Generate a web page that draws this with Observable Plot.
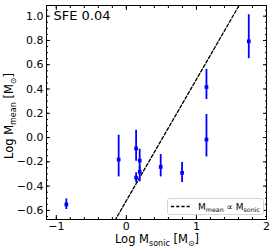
<!DOCTYPE html>
<html><head><meta charset="utf-8">
<script src="https://cdn.jsdelivr.net/npm/d3@7"></script>
<script src="https://cdn.jsdelivr.net/npm/@observablehq/plot@0.6"></script>
<style>body{margin:0;background:#fff}</style>
</head><body><div id="chart"></div>
<script>
// Data (log10 values)
const logMsonic = [-0.857, -0.11, 0.139, 0.139, 0.19, 0.19, 0.49, 0.795, 1.143, 1.143, 1.747];
const logMmean  = [-0.551, -0.181, -0.09, -0.33, -0.19, -0.283, -0.242, -0.291, -0.016, 0.416, 0.793];
const errLow    = [-0.593, -0.324, -0.195, -0.37, -0.278, -0.365, -0.324, -0.37, -0.16, 0.313, 0.65];
const errHigh   = [-0.505, 0.019, 0.06, -0.29, -0.096, -0.236, -0.14, -0.206, 0.19, 0.562, 1.012];
// Reference relation M_mean ∝ M_sonic (slope 1 in log-log), endpoints
const refLineX = [-0.2, 1.65];
const refLineY = [-0.72, 1.13];
// Ticks
const xMajor = [-1, 0, 1, 2];
const xMinor = [-1, -0.8, -0.6, -0.4, -0.2, 0, 0.2, 0.4, 0.6, 0.8, 1, 1.2, 1.4, 1.6, 1.8, 2];
const yMajor = [-0.6, -0.4, -0.2, 0.0, 0.2, 0.4, 0.6, 0.8, 1.0];
const yMinor = [-0.65, -0.6, -0.55, -0.5, -0.45, -0.4, -0.35, -0.3, -0.25, -0.2, -0.15, -0.1, -0.05, 0, 0.05, 0.1, 0.15, 0.2, 0.25, 0.3, 0.35, 0.4, 0.45, 0.5, 0.55, 0.6, 0.65, 0.7, 0.75, 0.8, 0.85, 0.9, 0.95, 1.0, 1.05];
const title = "SFE 0.04";

const data = logMsonic.map((x, i) => ({x, y: logMmean[i], lo: errLow[i], hi: errHigh[i]}));
const refLine = refLineX.map((x, i) => ({x, y: refLineY[i]}));
const blank = () => "";

const chart = Plot.plot({
  width: 275, height: 251,
  marginLeft: 46, marginRight: 9, marginTop: 5, marginBottom: 32,
  x: {domain: [-1.14, 2], label: null},
  y: {domain: [-0.675, 1.088], label: null},
  style: {fontFamily: "DejaVu Sans", fontSize: "11px", color: "black", background: "white"},
  marks: [
    Plot.line(refLine, {x: "x", y: "y", stroke: "black", strokeWidth: 1.3, strokeDasharray: "3.2,2", clip: true}),
    Plot.ruleX(data, {x: "x", y1: "lo", y2: "hi", stroke: "blue", strokeWidth: 1.8}),
    Plot.dot(data, {x: "x", y: "y", symbol: "square", r: 2.1, fill: "blue", stroke: null}),
    // ticks inward on all four sides
    Plot.axisX(xMajor, {anchor: "bottom", tickSize: -4, tickFormat: blank, label: null}),
    Plot.axisX(xMajor, {anchor: "top", tickSize: -4, tickFormat: blank, label: null}),
    Plot.axisX(xMinor, {anchor: "bottom", tickSize: -2, tickFormat: blank, label: null}),
    Plot.axisX(xMinor, {anchor: "top", tickSize: -2, tickFormat: blank, label: null}),
    Plot.axisY(yMajor, {anchor: "left", tickSize: -4, tickFormat: blank, label: null}),
    Plot.axisY(yMajor, {anchor: "right", tickSize: -4, tickFormat: blank, label: null}),
    Plot.axisY(yMinor, {anchor: "left", tickSize: -2, tickFormat: blank, label: null}),
    Plot.axisY(yMinor, {anchor: "right", tickSize: -2, tickFormat: blank, label: null}),
    // tick labels
    Plot.axisX(xMajor, {anchor: "bottom", tickSize: 0, tickPadding: 3, tickFormat: d3.format("d"), label: null, fontSize: 11}),
    Plot.axisY(yMajor, {anchor: "left", tickSize: 0, tickPadding: 3, tickFormat: d3.format(".1f"), label: null, fontSize: 11}),
    Plot.frame({stroke: "black", strokeWidth: 1}),
    Plot.text([title], {frameAnchor: "top-left", dx: 7, dy: 5, text: d => d, fontSize: 13, textAnchor: "start", lineAnchor: "top"})
  ]
});
document.getElementById("chart").append(chart);

// Axis titles with subscripts, and legend
const svg = d3.select(chart);
const g = svg.append("g").attr("font-family", "DejaVu Sans").attr("fill", "black");
function subLabel(sel, parts, fs, sfs, shift) {
  let inSub = false;
  parts.forEach(([t, sub]) => {
    const ts = sel.append("tspan").attr("font-size", sub ? sfs : fs);
    if (sub && !inSub) ts.attr("dy", shift);
    if (!sub && inSub) ts.attr("dy", -shift);
    inSub = !!sub;
    ts.text(t);
  });
}
const xl = g.append("text").attr("x", 157).attr("y", 243).attr("text-anchor", "middle");
subLabel(xl, [["Log M"], ["sonic", 1], [" [M"], ["⊙", 1], ["]"]], 11.5, 8, 2.5);
const yl = g.append("text").attr("transform", "translate(13,116) rotate(-90)").attr("text-anchor", "middle");
subLabel(yl, [["Log M"], ["mean", 1], [" [M"], ["⊙", 1], ["]"]], 11.5, 8, 2.5);

const lg = svg.append("g").attr("font-family", "DejaVu Sans");
lg.append("rect").attr("x", 167.5).attr("y", 198.5).attr("width", 96).attr("height", 16).attr("rx", 2)
  .attr("fill", "white").attr("fill-opacity", 0.8).attr("stroke", "#cccccc").attr("stroke-width", 0.8);
lg.append("line").attr("x1", 171).attr("x2", 190).attr("y1", 206.5).attr("y2", 206.5)
  .attr("stroke", "black").attr("stroke-width", 1.3).attr("stroke-dasharray", "3.2,2");
const lt = lg.append("text").attr("x", 198).attr("y", 209.5).attr("fill", "black").attr("text-anchor", "start");
subLabel(lt, [["M"], ["mean", 1], [" ∝ M"], ["sonic", 1]], 9, 6.3, 2);
</script>
</body></html>
